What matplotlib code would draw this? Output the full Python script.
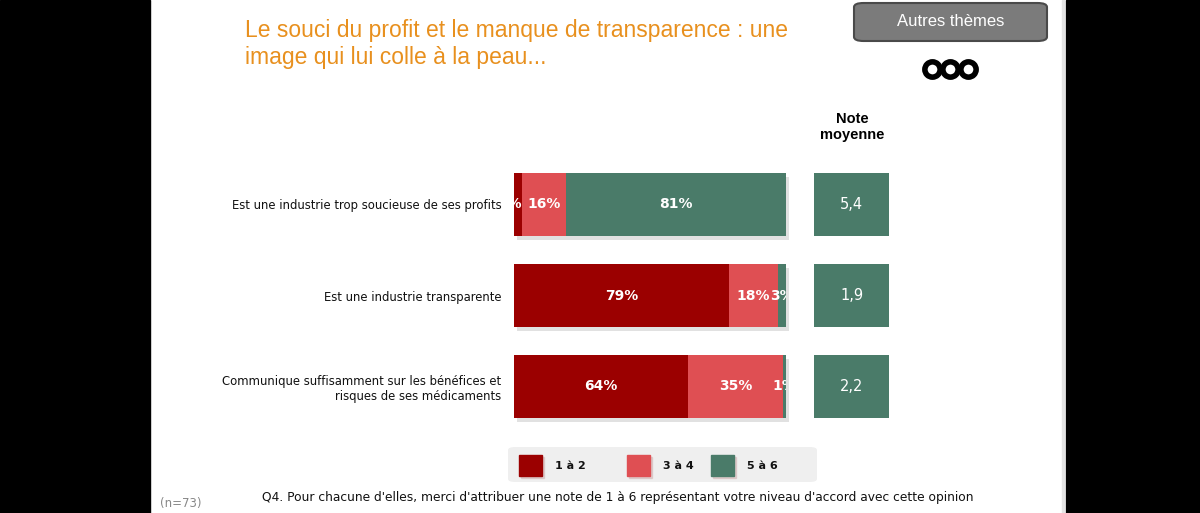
import matplotlib
matplotlib.use("Agg")
import matplotlib.pyplot as plt
from matplotlib.patches import Rectangle, FancyBboxPatch
import numpy as np

# ==============================
# Data
# ==============================
categories = [
    "Est une industrie trop soucieuse de ses profits",
    "Est une industrie transparente",
    "Communique suffisamment sur les bénéfices et\nrisques de ses médicaments",
]
score_1_2 = [3, 79, 64]
score_3_4 = [16, 18, 35]
score_5_6 = [81, 3, 1]
note_moyenne = ["5,4", "1,9", "2,2"]
legend_labels = ["1 à 2", "3 à 4", "5 à 6"]

title = "Le souci du profit et le manque de transparence : une\nimage qui lui colle à la peau..."
question = ("Q4. Pour chacune d'elles, merci d'attribuer une note de 1 à 6 "
            "représentant votre niveau d'accord avec cette opinion")

colors = ["#9B0000", "#DF4F53", "#4A7B69"]

W, H = 1200, 513
fig = plt.figure(figsize=(W / 100, H / 100), dpi=100)
fig.patch.set_facecolor("white")


def fx(px):
    return px / W


def fy(py):
    return 1 - py / H


# black side bands
fig.patches.append(Rectangle((0, 0), fx(150), 1, transform=fig.transFigure,
                             color="black", zorder=0))
fig.patches.append(Rectangle((fx(1066), 0), 1, 1, transform=fig.transFigure,
                             color="black", zorder=0))
fig.patches.append(Rectangle((fx(1062), 0), fx(2), 1, transform=fig.transFigure,
                             color="#e4e4e4", zorder=0))

# ==============================
# Stacked bars
# ==============================
ax = fig.add_axes([fx(514), (H - 432) / H, fx(786 - 514), 273 / H])
y = np.arange(len(categories))
bar_h = 0.69

# drop shadow
ax.barh(y + 0.04, 100, left=1.2, height=bar_h, color="#c4c4c4", alpha=0.5,
        clip_on=False, zorder=1)

left = np.zeros(len(categories))
for k, (vals, c) in enumerate(zip([score_1_2, score_3_4, score_5_6], colors)):
    vals = np.array(vals, dtype=float)
    ax.barh(y, vals, left=left, height=bar_h, color=c, zorder=2)
    for i, v in enumerate(vals):
        # tiny first segment: label sits against its right edge and gets cut
        if k == 0 and v < 5:
            xpos, ha = left[i] + v, "right"
        else:
            xpos, ha = left[i] + v / 2, "center"
        t = ax.text(xpos, y[i], f"{int(v)}%", ha=ha, va="center",
                    color="white", fontsize=10, fontweight="bold",
                    family="DejaVu Sans", zorder=3)
        t.set_clip_on(True)
    left += vals

ax.set_xlim(0, 100)
ax.set_ylim(2.5, -0.5)
ax.set_yticks(y)
ax.set_yticklabels(categories, fontsize=8.4, family="DejaVu Sans", color="#111111")
ax.tick_params(axis="y", length=0, pad=9)
ax.set_xticks([])
for s in ax.spines.values():
    s.set_visible(False)
ax.patch.set_alpha(0)

# ==============================
# Note moyenne boxes
# ==============================
axn = fig.add_axes([fx(814), (H - 432) / H, fx(889 - 814), 273 / H])
axn.barh(y, 1, left=0, height=bar_h, color=colors[2])
for i, n in enumerate(note_moyenne):
    axn.text(0.5, y[i], n, ha="center", va="center", color="white",
             fontsize=10.5, family="DejaVu Sans")
axn.set_xlim(0, 1)
axn.set_ylim(2.5, -0.5)
axn.axis("off")
fig.text(fx(852), fy(127), "Note\nmoyenne", ha="center", va="center",
         fontsize=10.5, fontweight="bold", family="Liberation Sans",
         linespacing=1.15)

# ==============================
# Title and button
# ==============================
fig.text(fx(245), fy(44), title, ha="left", va="center", color="#E8901E",
         fontsize=16.5, family="Liberation Sans", linespacing=1.2)

btn = FancyBboxPatch((fx(854), fy(41)), fx(1047 - 854), (41 - 3) / H,
                     boxstyle="round,pad=0,rounding_size=0.008",
                     transform=fig.transFigure, facecolor="#7b7b7b",
                     edgecolor="#4a4a4a", linewidth=1.5)
fig.patches.append(btn)
fig.text(fx(951), fy(21), "Autres thèmes", ha="center", va="center",
         color="white", fontsize=12, family="Liberation Sans")

for cx in [932, 950, 968]:
    fig.lines.append(plt.Line2D([fx(cx)], [fy(69)], marker="o", markersize=11,
                                markerfacecolor="white", markeredgecolor="black",
                                markeredgewidth=4, transform=fig.transFigure))

# ==============================
# Legend
# ==============================
leg = FancyBboxPatch((fx(508), fy(482)), fx(817 - 508), 35 / H,
                     boxstyle="round,pad=0,rounding_size=0.006",
                     transform=fig.transFigure, facecolor="#efefef",
                     edgecolor="none")
fig.patches.append(leg)
for sq_x, txt_x, c, lab in zip([519, 627, 711], [555, 663, 747], colors, legend_labels):
    fig.patches.append(Rectangle((fx(sq_x + 1.5), fy(477.5)), fx(23), 21 / H,
                                 transform=fig.transFigure, color="#d0b0b0",
                                 alpha=0.5))
    fig.patches.append(Rectangle((fx(sq_x), fy(476)), fx(23), 21 / H,
                                 transform=fig.transFigure, color=c))
    fig.text(fx(txt_x), fy(466), lab, ha="left", va="center", fontsize=8,
             fontweight="bold", family="DejaVu Sans", color="#111111")

# ==============================
# Footer
# ==============================
fig.text(fx(160), fy(504), "(n=73)", ha="left", va="center", color="#888888",
         fontsize=8.5, family="DejaVu Sans")
fig.text(fx(262), fy(497), question, ha="left", va="center", color="#111111",
         fontsize=8.8, family="DejaVu Sans")

fig.savefig("out.png", dpi=100, facecolor=fig.get_facecolor())
